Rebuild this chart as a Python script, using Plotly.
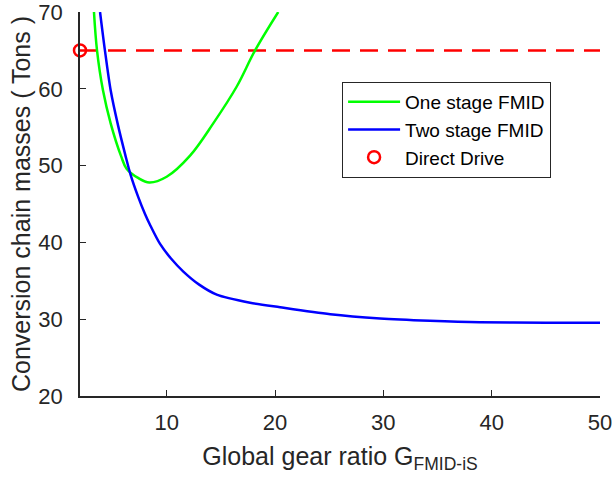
import plotly.graph_objects as go

# One stage FMID
one_x = [3.29, 3.57, 4.12, 4.83, 5.8, 6.3, 7.36, 8.4, 10.0, 12.16, 14.3, 16.47, 18.16, 20.3]
one_y = [70, 65, 59.8, 55.5, 51.2, 49.6, 48.4, 47.8, 48.55, 51.3, 55.5, 60.3, 65.0, 70]

# Two stage FMID
two_x = [3.85, 4.3, 4.83, 5.5, 6.18, 6.65, 7.38, 8.0, 8.46, 9.39, 10.4, 11.54, 13.0, 14.62,
         17.7, 20.47, 25.1, 29.7, 34.3, 38.9, 45, 50]
two_y = [70, 65, 59.8, 55.3, 51.4, 48.9, 45.9, 43.7, 42.3, 39.8, 37.9, 36.2, 34.5, 33.2,
         32.15, 31.55, 30.64, 30.1, 29.8, 29.6, 29.55, 29.55]

# Direct drive
dd_x = [2]
dd_y = [65]
dd_line_x = [2, 50]
dd_line_y = [65, 65]

x_ticks = [10, 20, 30, 40, 50]
y_ticks = [20, 30, 40, 50, 60, 70]

FONT = "Liberation Sans, Arial, sans-serif"
AX = "#262626"

fig = go.Figure()
fig.add_trace(go.Scatter(x=dd_line_x, y=dd_line_y, mode="lines",
                         line=dict(color="#FF0000", width=2.5, dash="18px,10px"),
                         showlegend=False, hoverinfo="skip"))
fig.add_trace(go.Scatter(x=one_x, y=one_y, mode="lines", name="One stage FMID",
                         line=dict(color="#00FF00", width=2.5, shape="spline", smoothing=1.0)))
fig.add_trace(go.Scatter(x=two_x, y=two_y, mode="lines", name="Two stage FMID",
                         line=dict(color="#0000FF", width=2.5, shape="spline", smoothing=0.8)))
fig.add_trace(go.Scatter(x=dd_x, y=dd_y, mode="markers", name="Direct Drive",
                         marker=dict(symbol="circle-open", size=12, color="#FF0000",
                                     line=dict(width=2.5, color="#FF0000")),
                         cliponaxis=False))

fig.update_layout(
    width=613, height=485,
    margin=dict(l=80, r=13, t=12, b=89),
    paper_bgcolor="white", plot_bgcolor="white",
    font=dict(family=FONT, color=AX, size=22),
    showlegend=True,
    legend=dict(x=0.504, y=0.818, xanchor="left", yanchor="top",
                bgcolor="white", bordercolor=AX, borderwidth=1,
                font=dict(size=19, family=FONT, color="#000000"),
                itemwidth=52, tracegroupgap=0),
    xaxis=dict(range=[2, 50], tickvals=x_ticks, ticks="inside", ticklen=6,
               tickwidth=1.3, tickcolor=AX, showline=True, linecolor=AX, linewidth=1.5,
               showgrid=False, zeroline=False, mirror=False, automargin=False,
               tickfont=dict(size=22, color=AX), ticklabelstandoff=6,
               ticklabeloverflow="allow",
               title=dict(text="Global gear ratio G<sub>FMID-iS</sub>",
                          font=dict(size=25, color=AX), standoff=13)),
    yaxis=dict(range=[20, 70], tickvals=y_ticks, ticks="inside", ticklen=6,
               tickwidth=1.3, tickcolor=AX, showline=True, linecolor=AX, linewidth=1.5,
               showgrid=False, zeroline=False, mirror=False, automargin=False,
               tickfont=dict(size=22, color=AX), ticklabelstandoff=11,
               ticklabeloverflow="allow",
               title=dict(text="Conversion chain masses ( Tons )",
                          font=dict(size=25, color=AX), standoff=1)),
)

fig.write_html("out.html",
               config={"displayModeBar": False},
               post_script="document.body.style.margin='0';document.body.style.overflow='hidden';")
